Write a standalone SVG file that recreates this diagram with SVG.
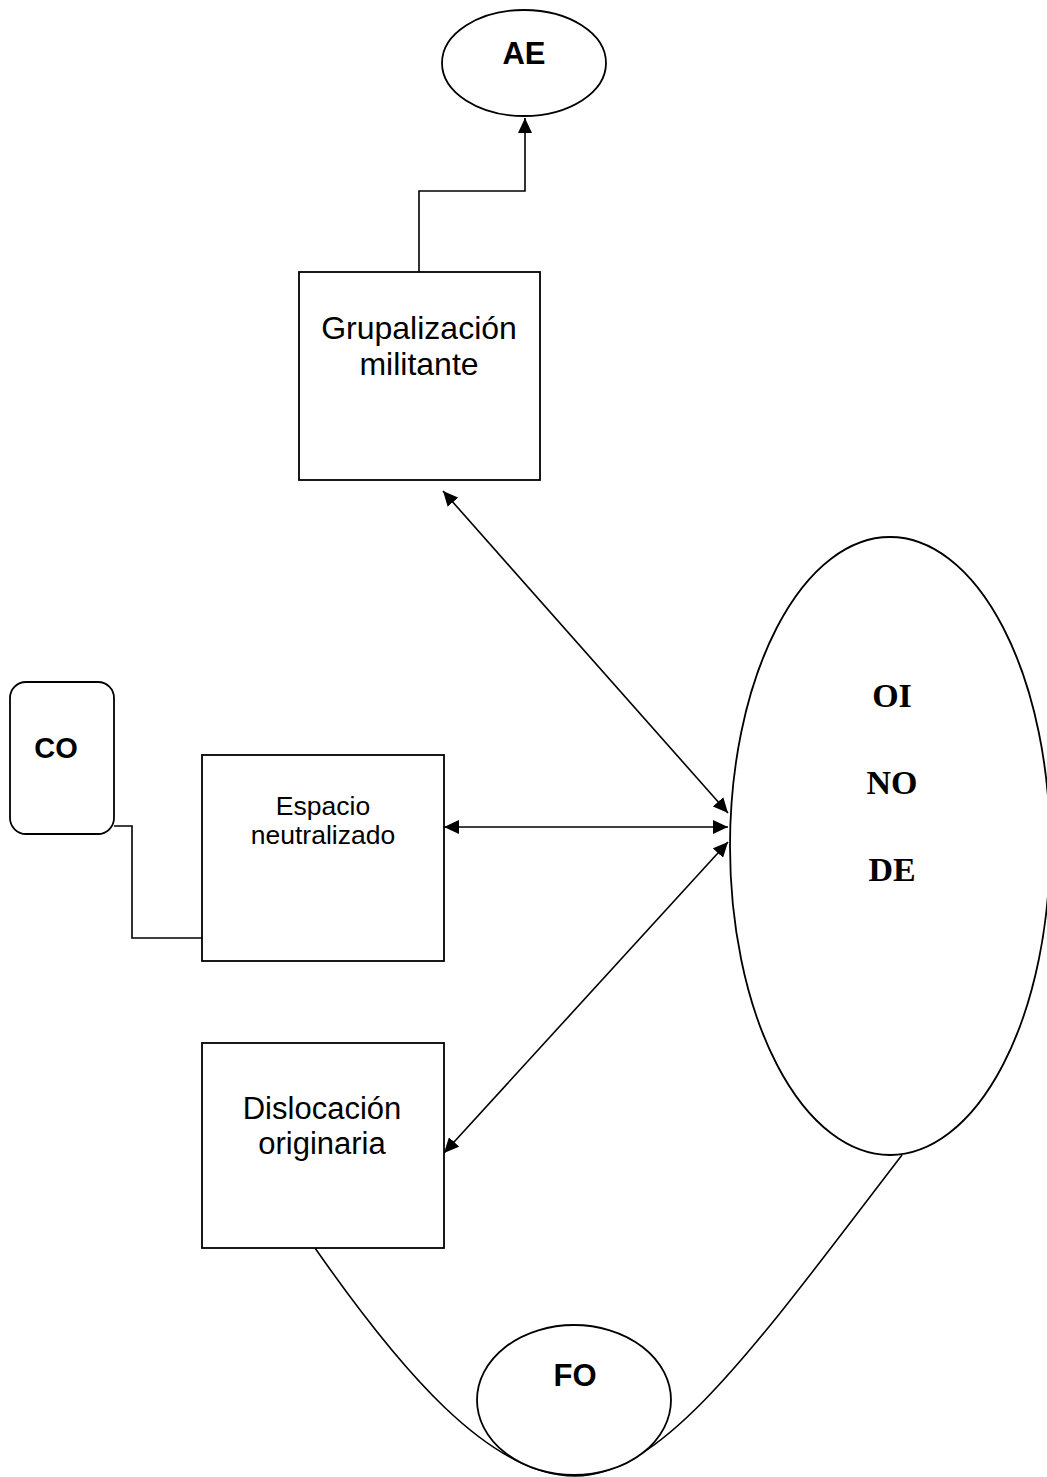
<svg xmlns="http://www.w3.org/2000/svg" width="1047" height="1477" viewBox="0 0 1047 1477">
<style>
.shape{fill:#fff;stroke:#000;stroke-width:1.8}
.line{fill:none;stroke:#000;stroke-width:1.6}
.sans{font-family:"Liberation Sans",Arial,sans-serif;fill:#000;text-anchor:middle}
.bold{font-weight:bold}
.serif{font-family:"Liberation Serif","Times New Roman",serif;font-weight:bold;font-size:34px;fill:#000;text-anchor:middle}
</style>
<defs>
<marker id="arr" markerUnits="userSpaceOnUse" markerWidth="15" markerHeight="14" viewBox="0 0 15 14" refX="15" refY="7" orient="auto-start-reverse">
<path d="M0,0 L15,7 L0,14 z" fill="#000"/>
</marker>
</defs>
<rect width="1047" height="1477" fill="#fff"/>
<g id="connectors">
<polyline class="line" points="419,272 419,191 525,191 525,118" marker-end="url(#arr)"/>
<line class="line" x1="443" y1="491" x2="728" y2="813" marker-start="url(#arr)" marker-end="url(#arr)"/>
<line class="line" x1="444" y1="827" x2="728" y2="827" marker-start="url(#arr)" marker-end="url(#arr)"/>
<line class="line" x1="728" y1="842" x2="444" y2="1153" marker-start="url(#arr)" marker-end="url(#arr)"/>
<polyline class="line" points="114,826 132,826 132,938 204,938"/>
<path class="line" d="M315,1248 C400,1370 490,1476 575,1476 C665,1476 760,1340 902,1155"/>
</g>
<g id="node-AE">
<ellipse class="shape" cx="524" cy="63" rx="82" ry="53"/>
<text class="sans bold" x="524" y="64" font-size="31">AE</text>
</g>
<g id="node-grupalizacion">
<rect class="shape" x="299" y="272" width="241" height="208"/>
<text class="sans" x="419" y="339" font-size="32">Grupalización</text>
<text class="sans" x="419" y="375" font-size="32">militante</text>
</g>
<g id="node-CO">
<rect class="shape" x="10" y="682" width="104" height="152" rx="16" ry="16"/>
<text class="sans bold" x="56" y="758" font-size="29">CO</text>
</g>
<g id="node-espacio">
<rect class="shape" x="202" y="755" width="242" height="206"/>
<text class="sans" x="323" y="815" font-size="26.5">Espacio</text>
<text class="sans" x="323" y="844" font-size="26.5">neutralizado</text>
</g>
<g id="node-dislocacion">
<rect class="shape" x="202" y="1043" width="242" height="205"/>
<text class="sans" x="322" y="1119" font-size="31">Dislocación</text>
<text class="sans" x="322" y="1154" font-size="31">originaria</text>
</g>
<g id="node-OI">
<ellipse class="shape" cx="890" cy="846" rx="160" ry="309"/>
<text class="serif" x="892" y="707">OI</text>
<text class="serif" x="892" y="794">NO</text>
<text class="serif" x="892" y="881">DE</text>
</g>
<g id="node-FO">
<ellipse class="shape" cx="574" cy="1400" rx="97" ry="75"/>
<text class="sans bold" x="575" y="1386" font-size="31">FO</text>
</g>
</svg>
